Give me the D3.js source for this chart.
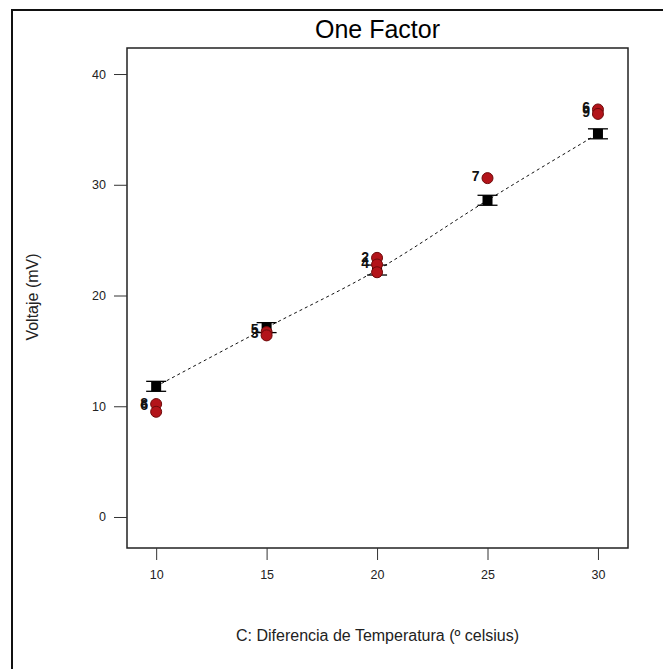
<!DOCTYPE html>
<html>
<head>
<meta charset="utf-8">
<script src="https://cdn.jsdelivr.net/npm/d3@7"></script>
<style>
  body { margin: 0; background: #fff; }
  text { font-family: Arial, "Liberation Sans", sans-serif; }
</style>
</head>
<body>
<svg id="chart" width="663" height="669"></svg>
<script>
// factor levels and model predictions (black squares)
const levels = [10, 15, 20, 25, 30];
const predicted = [11.8, 17.1, 22.3, 28.6, 34.6];
const errHalf = [0.45, 0.45, 0.45, 0.45, 0.45];

// observed runs (red circles)
const obsX = [10, 10, 15, 15, 20, 20, 20, 25, 30, 30];
const obsY = [10.2, 9.5, 16.7, 16.4, 23.4, 22.8, 22.1, 30.6, 36.8, 36.4];

// run labels next to the points
const labelX = [10, 10, 15, 15, 20, 20, 25, 30, 30];
const labelY = [10.3, 10.1, 17.0, 16.6, 23.5, 22.9, 30.8, 37.0, 36.6];
const labelText = ["8", "6", "5", "3", "2", "4", "7", "6", "9"];

const xTicks = [10, 15, 20, 25, 30];
const yTicks = [0, 10, 20, 30, 40];

const svg = d3.select("#chart");

const plot = { left: 127, right: 628, top: 48, bottom: 548 };

const x = d3.scaleLinear().domain([8.68, 31.36]).range([plot.left, plot.right]);
const y = d3.scaleLinear().domain([-2.8, 42.35]).range([plot.bottom, plot.top]);

// outer frame (left and top only)
svg.append("path")
    .attr("d", "M12,669 L12,10 L663,10")
    .attr("fill", "none")
    .attr("stroke", "#111")
    .attr("stroke-width", 2);

// title
svg.append("text")
    .attr("x", (plot.left + plot.right) / 2)
    .attr("y", 38)
    .attr("text-anchor", "middle")
    .style("font-size", "25px")
    .attr("fill", "#000")
    .text("One Factor");

// plot box
svg.append("rect")
    .attr("x", plot.left)
    .attr("y", plot.top)
    .attr("width", plot.right - plot.left)
    .attr("height", plot.bottom - plot.top)
    .attr("fill", "none")
    .attr("stroke", "#222")
    .attr("stroke-width", 1.5);

// axes
const xAxis = svg.append("g")
    .attr("transform", "translate(0," + plot.bottom + ")")
    .call(d3.axisBottom(x).tickValues(xTicks).tickSize(12).tickPadding(10));
const yAxis = svg.append("g")
    .attr("transform", "translate(" + plot.left + ",0)")
    .call(d3.axisLeft(y).tickValues(yTicks).tickSize(13).tickPadding(8));

[xAxis, yAxis].forEach(a => {
    a.select(".domain").remove();
    a.selectAll("line").attr("stroke", "#333");
    a.selectAll("text")
        .style("font-size", "12.5px")
        .style("font-family", "Arial, 'Liberation Sans', sans-serif")
        .attr("fill", "#222");
});

// axis titles
svg.append("text")
    .attr("x", (plot.left + plot.right) / 2)
    .attr("y", 641)
    .attr("text-anchor", "middle")
    .style("font-size", "16px")
    .attr("fill", "#222")
    .text("C: Diferencia de Temperatura (º celsius)");

svg.append("text")
    .attr("transform", "translate(38," + 297 + ") rotate(-90)")
    .attr("text-anchor", "middle")
    .style("font-size", "16px")
    .attr("fill", "#222")
    .text("Voltaje (mV)");

// dashed prediction line
const line = d3.line()
    .x((d, i) => x(levels[i]))
    .y(d => y(d))
    .curve(d3.curveMonotoneX);

svg.append("path")
    .datum(predicted)
    .attr("d", line)
    .attr("fill", "none")
    .attr("stroke", "#111")
    .attr("stroke-width", 1)
    .attr("stroke-dasharray", "3,3");

// error bar caps around predictions
const caps = svg.append("g");
levels.forEach((lv, i) => {
    [predicted[i] - errHalf[i], predicted[i] + errHalf[i]].forEach(v => {
        caps.append("line")
            .attr("x1", x(lv) - 10).attr("x2", x(lv) + 10)
            .attr("y1", y(v)).attr("y2", y(v))
            .attr("stroke", "#000")
            .attr("stroke-width", 1.3);
    });
});

// prediction squares
svg.append("g").selectAll("rect")
    .data(predicted)
    .join("rect")
    .attr("x", (d, i) => x(levels[i]) - 5)
    .attr("y", d => y(d) - 5)
    .attr("width", 10)
    .attr("height", 10)
    .attr("fill", "#000");

// observed points
svg.append("g").selectAll("circle")
    .data(obsY)
    .join("circle")
    .attr("cx", (d, i) => x(obsX[i]))
    .attr("cy", d => y(d))
    .attr("r", 5.5)
    .attr("fill", "#b3141a")
    .attr("stroke", "#6e0a0a")
    .attr("stroke-width", 1);

// run labels
svg.append("g").selectAll("text")
    .data(labelText)
    .join("text")
    .attr("x", (d, i) => x(labelX[i]) - 8)
    .attr("y", (d, i) => y(labelY[i]) + 5)
    .attr("text-anchor", "end")
    .style("font-size", "14px")
    .style("font-weight", "bold")
    .attr("fill", "#111")
    .text(d => d);
</script>
</body>
</html>
